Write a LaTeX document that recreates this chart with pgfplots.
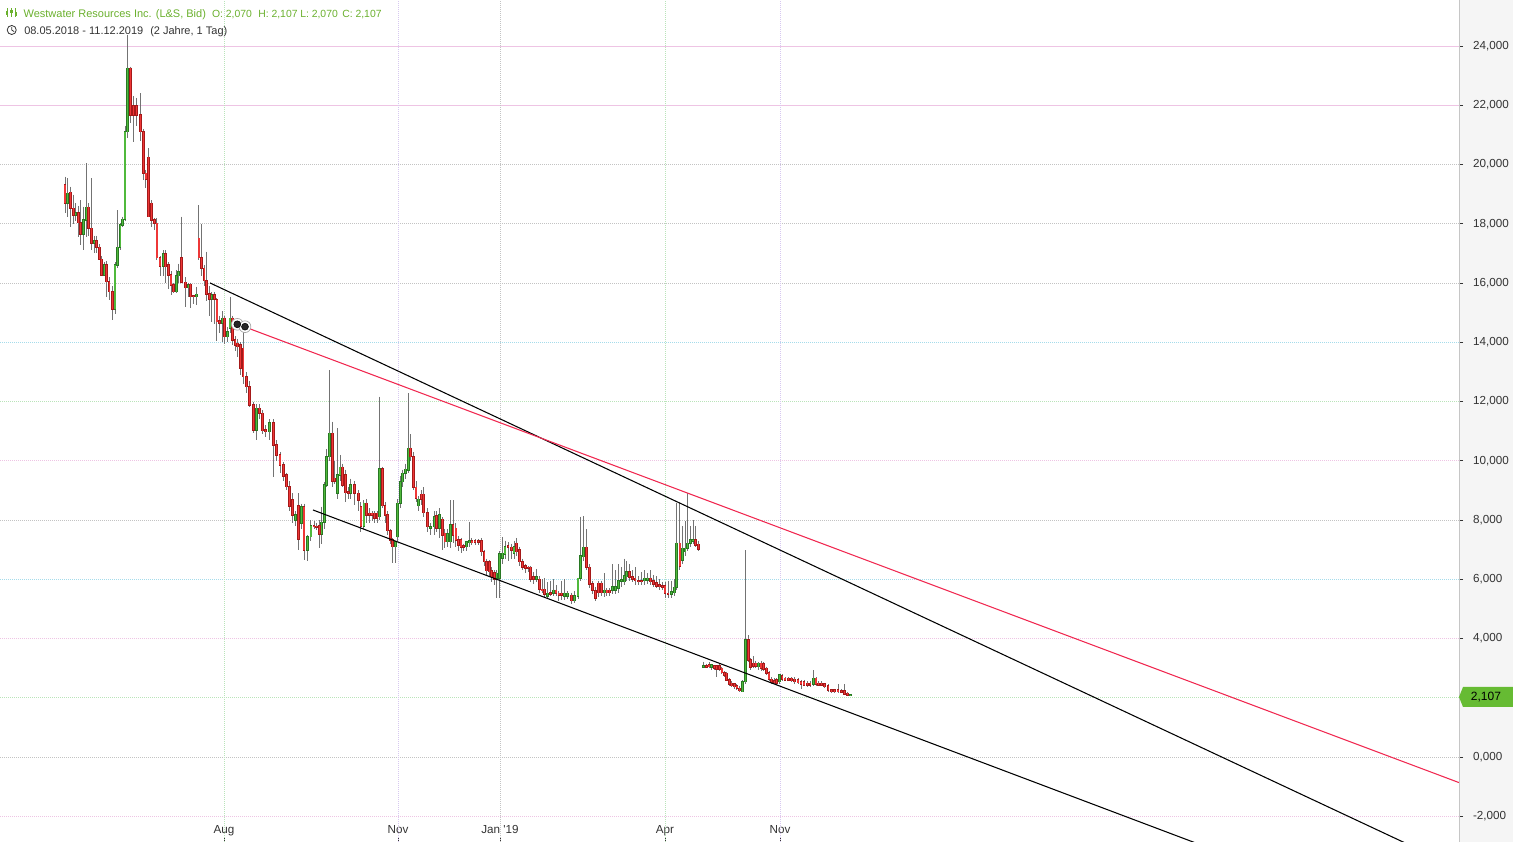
\documentclass[border=0pt]{standalone}
\usepackage{fontspec}
\setmainfont{Liberation Sans}
\usepackage{pgfplots}
\usepackage{pgfplotstable}
\pgfplotsset{compat=1.18}
\definecolor{hdrgreen}{RGB}{106,176,45}
\definecolor{txtgray}{RGB}{51,51,51}
\definecolor{upfill}{RGB}{80,185,60}
\definecolor{upedge}{RGB}{40,120,35}
\definecolor{dnfill}{RGB}{238,55,55}
\definecolor{dnedge}{RGB}{165,25,25}
\definecolor{wick}{RGB}{115,115,115}
\definecolor{trendred}{RGB}{240,40,80}
\definecolor{gpink}{RGB}{238,196,228}
\definecolor{ggray}{RGB}{195,195,195}
\definecolor{gcyan}{RGB}{165,220,235}
\definecolor{ggreen}{RGB}{185,228,185}
\definecolor{glav}{RGB}{215,200,240}
\definecolor{tagfill}{RGB}{102,187,51}

\pgfplotstableread{
x o h l c
65.0 19.307 19.589 18.351 18.688
67.8 18.688 19.532 18.238 19.026
70.4 19.060 19.251 17.901 18.520
73.2 18.520 18.980 18.000 18.295
75.7 18.295 18.700 18.100 18.373
78.3 18.373 18.600 17.563 18.036
80.8 18.036 18.801 17.282 17.653
83.4 17.653 18.576 17.113 18.126
86.2 18.126 20.039 17.563 18.553
88.8 18.553 18.700 17.600 17.844
91.6 17.844 19.532 17.113 17.338
94.2 17.338 17.600 17.000 17.428
96.7 17.428 17.600 17.000 17.203
99.3 17.203 17.300 16.770 16.798
101.8 16.798 16.900 16.220 16.269
104.2 16.269 16.700 16.220 16.607
106.7 16.607 16.750 15.538 16.044
109.1 16.044 16.200 15.430 15.707
112.3 15.707 15.900 14.750 15.110
115.0 15.110 16.700 14.950 16.607
117.7 16.607 18.463 16.500 17.203
120.1 17.203 18.013 17.100 17.957
122.5 17.957 18.238 17.900 18.148
125.0 18.148 21.300 18.100 21.108
127.4 21.108 24.371 20.900 23.246
130.8 23.246 23.300 21.400 21.671
133.6 21.974 22.300 20.770 21.671
136.8 21.974 22.250 21.300 21.671
140.4 21.671 22.402 20.800 21.108
143.2 21.108 21.200 19.480 19.701
145.9 19.701 19.800 19.200 19.499
148.5 20.241 20.550 18.220 18.238
151.6 18.688 18.801 17.900 18.126
154.3 18.126 18.200 17.800 18.013
156.9 18.013 18.200 16.770 16.854
160.0 16.854 16.900 16.220 16.573
163.2 16.573 17.100 16.220 16.978
165.8 16.978 17.100 16.000 16.551
168.4 16.607 16.700 15.800 16.269
171.0 16.269 16.400 15.600 15.932
173.6 15.932 16.000 15.650 15.707
176.2 15.707 16.440 15.650 16.247
178.8 16.247 16.650 16.000 16.382
181.6 16.854 18.238 15.990 16.022
185.4 16.022 16.200 15.200 15.842
188.1 15.842 16.000 15.540 15.932
190.8 15.954 16.000 15.144 15.538
193.6 15.571 15.600 15.300 15.538
196.3 15.538 15.880 15.256 15.616
198.9 17.507 18.632 16.780 16.860
201.5 16.860 18.000 16.220 16.494
204.1 16.494 16.600 15.900 16.078
206.7 16.078 17.057 15.400 15.628
209.3 15.628 15.900 14.900 15.448
211.8 15.448 15.700 14.700 15.594
214.3 15.594 15.700 14.600 15.448
216.9 15.426 15.500 14.050 14.694
219.5 14.717 14.900 14.300 14.638
222.1 14.638 15.050 14.000 14.807
224.7 14.807 14.900 13.950 14.188
227.3 14.188 14.500 14.000 14.357
230.0 14.469 15.540 14.300 14.807
232.5 14.807 14.900 13.900 14.075
235.1 14.075 14.200 13.700 13.906
237.6 13.963 14.100 13.500 13.850
240.2 13.906 14.000 12.900 13.119
243.1 13.794 14.357 12.600 12.837
246.2 12.837 13.000 12.300 12.500
249.3 12.500 12.700 11.800 11.881
253.3 11.881 12.000 10.950 11.037
256.7 11.037 11.900 10.700 11.768
259.6 11.768 11.900 11.400 11.600
262.5 11.600 11.700 10.900 11.014
265.8 11.037 11.200 10.800 10.981
269.6 10.981 11.400 10.700 11.284
273.2 11.284 11.400 9.461 10.531
276.5 10.531 10.700 10.000 10.193
280.0 10.193 10.300 9.600 9.855
283.3 9.855 9.950 9.300 9.484
286.4 9.518 9.600 9.000 9.124
289.6 9.124 9.300 8.300 8.471
292.6 8.674 8.900 7.900 8.167
295.3 8.000 8.300 7.800 8.167
298.6 8.471 8.899 7.000 7.346
301.3 7.900 8.550 7.700 8.450
304.0 8.448 8.550 6.648 6.986
307.4 6.985 7.500 6.600 7.435
310.9 7.435 8.000 7.300 7.806
314.0 7.806 7.950 7.700 7.772
316.7 7.790 7.900 7.650 7.772
319.3 7.806 8.000 7.050 7.525
321.8 7.525 8.448 7.200 7.919
324.2 7.919 9.292 7.700 9.179
326.7 9.179 10.400 9.100 10.136
329.3 10.136 13.061 10.000 10.923
332.2 10.923 11.317 9.100 9.314
334.8 9.404 10.000 9.200 9.314
337.4 8.898 11.100 8.700 9.517
340.0 9.517 10.200 9.300 9.776
342.7 9.776 9.900 9.100 9.179
345.5 9.517 9.700 8.600 8.920
348.2 8.954 9.100 8.700 8.898
350.8 8.898 9.400 8.700 9.179
354.8 9.179 9.300 8.500 8.898
358.2 8.898 9.000 8.300 8.673
360.9 8.448 8.600 7.600 7.795
363.9 7.795 8.673 7.700 8.560
366.7 8.560 8.700 7.900 8.166
369.4 8.223 8.400 7.900 8.166
372.0 8.223 8.300 7.950 8.166
374.6 8.223 8.300 7.900 8.054
377.1 8.223 8.300 7.900 8.054
379.8 8.110 12.161 8.000 9.719
382.5 9.719 9.800 8.400 8.481
385.1 8.481 8.600 7.900 8.166
387.7 8.166 8.300 7.500 7.638
390.2 7.638 7.700 7.200 7.322
392.8 7.322 7.400 6.535 7.097
395.3 7.097 7.300 6.535 7.266
397.8 7.435 8.700 7.300 8.560
400.3 8.560 9.500 8.400 9.292
402.8 9.292 9.700 9.100 9.573
405.4 9.573 9.900 9.400 9.708
408.2 9.686 12.274 9.600 10.417
410.8 10.417 10.900 10.000 10.136
413.4 10.136 10.300 9.000 9.100
416.0 9.100 9.300 8.600 8.729
418.6 8.481 8.800 8.300 8.695
421.1 8.864 9.000 8.500 8.695
423.7 8.864 9.100 8.100 8.245
427.2 8.245 8.400 7.600 7.772
430.8 7.716 7.900 7.500 7.772
434.2 7.772 8.300 7.500 8.110
436.8 8.133 8.300 7.600 7.716
439.4 7.716 8.400 7.400 8.166
442.2 8.020 8.100 7.000 7.491
444.9 7.547 7.700 7.050 7.266
447.6 7.266 7.700 7.100 7.525
450.2 7.266 8.673 7.050 7.829
453.1 7.829 8.673 7.210 7.491
455.9 7.716 7.900 7.100 7.322
458.5 7.322 7.450 6.950 7.153
461.0 7.322 7.400 6.900 7.075
463.8 7.120 7.200 6.950 7.075
466.6 7.097 7.300 6.950 7.266
469.3 7.232 7.941 7.100 7.300
471.9 7.300 7.400 7.150 7.232
475.0 7.300 7.350 7.150 7.255
478.2 7.300 7.350 7.150 7.255
481.5 7.300 7.400 6.800 6.928
484.1 6.928 7.000 6.450 6.591
486.7 6.591 6.700 6.150 6.287
489.3 6.591 6.650 6.100 6.253
491.8 6.287 6.400 5.900 6.085
494.3 6.220 6.300 5.800 5.994
496.8 6.028 6.300 5.353 6.197
499.4 6.028 6.950 5.353 6.850
502.4 6.703 7.430 6.500 6.872
505.0 6.850 7.300 6.700 7.097
508.1 7.120 7.250 6.600 7.075
511.2 7.075 7.200 6.700 6.985
514.0 6.872 7.300 6.700 7.097
516.7 7.210 7.400 6.800 6.928
519.8 6.985 7.100 6.450 6.591
522.6 6.591 6.700 6.300 6.400
525.4 6.445 6.500 6.200 6.366
528.1 6.400 6.450 6.250 6.366
530.8 6.400 6.450 5.900 5.994
533.8 6.085 6.250 5.850 5.994
536.6 5.994 6.350 5.900 6.085
539.3 5.994 6.100 5.550 5.657
542.0 5.657 6.000 5.550 5.612
544.8 5.657 6.050 5.400 5.499
547.8 5.432 5.900 5.350 5.522
550.6 5.544 5.950 5.450 5.499
553.3 5.522 6.000 5.450 5.634
556.0 5.634 5.800 5.450 5.522
558.9 5.522 5.600 5.250 5.454
561.7 5.522 5.950 5.300 5.465
564.8 5.432 6.000 5.300 5.522
567.8 5.432 5.600 5.350 5.522
571.3 5.465 5.550 5.150 5.274
574.7 5.274 5.600 5.200 5.432
578.0 5.432 6.050 5.350 6.028
580.6 6.028 8.110 5.950 6.782
583.3 6.760 8.133 6.600 7.075
586.4 7.075 7.700 6.300 6.400
589.2 6.400 6.500 5.700 5.837
592.2 5.837 5.950 5.500 5.634
595.2 5.612 5.750 5.250 5.353
598.8 5.859 5.950 5.400 5.544
601.6 5.859 5.950 5.450 5.544
604.2 5.544 6.200 5.400 5.634
606.9 5.634 5.700 5.450 5.544
609.8 5.634 5.700 5.450 5.544
612.6 5.634 6.500 5.500 5.747
615.8 5.634 6.300 5.500 5.747
618.6 5.691 6.500 5.550 5.949
621.6 5.949 6.400 5.750 5.972
624.3 5.916 6.700 5.800 6.107
626.8 6.085 6.600 5.950 6.253
629.5 6.253 6.500 5.950 6.062
632.3 6.085 6.300 5.900 5.994
635.1 6.028 6.400 5.800 5.949
638.2 5.949 6.100 5.800 5.916
641.5 5.949 6.250 5.800 5.916
644.7 5.949 6.300 5.800 6.028
647.6 5.972 6.200 5.850 6.028
650.6 6.028 6.300 5.800 5.916
653.8 5.949 6.150 5.750 5.837
656.7 5.882 6.100 5.700 5.770
659.5 5.803 6.000 5.650 5.747
662.2 5.770 5.900 5.650 5.747
665.0 5.770 5.900 5.353 5.522
668.1 5.522 5.950 5.353 5.499
671.5 5.499 5.950 5.380 5.578
674.2 5.544 6.000 5.450 5.724
676.8 5.724 8.583 5.650 7.210
679.9 7.210 8.560 6.300 6.445
682.6 6.647 7.800 6.500 7.041
685.1 6.928 7.950 6.800 7.041
687.8 7.041 8.898 6.950 7.210
690.6 7.210 7.800 7.100 7.322
693.0 7.300 8.000 7.200 7.322
695.6 7.322 7.800 7.100 7.153
698.4 7.176 7.300 6.950 7.007
703.3 3.047 3.216 3.000 3.069
706.3 3.069 3.150 3.000 3.047
709.0 3.103 3.200 3.000 3.047
711.7 3.024 3.150 2.950 3.103
714.2 3.069 3.100 2.950 2.991
716.8 3.069 3.100 2.709 2.957
719.4 3.069 3.150 2.900 2.957
721.9 2.991 3.050 2.800 2.845
724.3 2.845 2.900 2.700 2.766
726.8 2.822 2.880 2.550 2.597
729.2 2.597 2.650 2.400 2.462
731.7 2.484 2.550 2.350 2.405
734.3 2.462 2.500 2.300 2.372
736.9 2.405 2.450 2.270 2.315
739.8 2.315 2.400 2.180 2.237
742.5 2.203 2.600 2.180 2.541
745.2 2.541 6.985 2.450 3.947
748.2 3.947 4.116 3.200 3.272
750.8 3.272 3.350 2.950 3.024
753.4 3.159 3.400 3.000 3.069
755.9 3.159 3.250 3.000 3.069
758.4 3.047 3.200 2.950 3.159
761.0 3.159 3.250 2.900 2.991
763.6 3.137 3.200 2.900 2.957
766.2 2.991 3.050 2.780 2.822
769.0 2.845 2.900 2.580 2.619
771.6 2.619 2.700 2.450 2.507
774.1 2.574 2.650 2.450 2.507
776.7 2.597 2.650 2.430 2.484
779.4 2.541 2.800 2.480 2.766
782.1 2.732 2.800 2.580 2.619
785.0 2.653 2.700 2.550 2.597
788.2 2.653 2.700 2.550 2.597
791.5 2.653 2.700 2.520 2.574
794.8 2.619 2.700 2.480 2.541
798.0 2.597 2.650 2.450 2.507
801.0 2.541 2.600 2.300 2.462
804.0 2.541 2.600 2.380 2.428
807.2 2.484 2.550 2.370 2.417
810.1 2.484 2.550 2.370 2.417
813.2 2.462 2.934 2.400 2.653
816.0 2.653 2.700 2.400 2.462
818.6 2.484 2.550 2.380 2.428
821.5 2.484 2.550 2.380 2.428
824.8 2.462 2.500 2.320 2.372
828.1 2.394 2.450 2.200 2.259
831.4 2.259 2.300 2.150 2.203
834.7 2.259 2.300 2.150 2.203
838.0 2.259 2.450 2.150 2.203
841.3 2.237 2.300 2.150 2.192
844.6 2.237 2.450 2.080 2.124
847.6 2.147 2.200 2.050 2.090
850.6 2.070 2.107 2.070 2.107
}\candles

\begin{document}
\begin{tikzpicture}
\path[use as bounding box] (0pt,0pt) rectangle (1134.75pt,631.5pt);
\fill[white!96!black] (1094.25pt,0pt) rectangle (1134.75pt,631.5pt);
\begin{axis}[
  at={(0pt,0pt)}, anchor=south west,
  scale only axis, width=1094.25pt, height=631.5pt,
  xmin=0, xmax=1459, ymin=-2.869, ymax=25.553,
  axis line style={draw=none},
  xtick={224,398,500,665,780},
  xticklabels={Aug,Nov,Jan \textquotesingle19,Apr,Nov},
  ytick={-2,0,2,4,6,8,10,12,14,16,18,20,22,24},
  yticklabels={{-2,000},{0,000},{2,000},{4,000},{6,000},{8,000},{10,000},{12,000},{14,000},{16,000},{18,000},{20,000},{22,000},{24,000}},
  xtick pos=left, ytick pos=right, yticklabel pos=right,
  xtick align=inside, ytick align=outside,
  major tick length=3pt,
  major tick style={txtgray, line width=0.6pt},
  tick label style={font=\fontsize{8.75}{10}\selectfont, text=txtgray},
  yticklabel style={anchor=west, xshift=4pt},
  xticklabel style={anchor=base, yshift=6pt},
  clip=true,
]
% horizontal grid
\draw[gpink, line width=0.7pt] (axis cs:0,24) -- (axis cs:1459,24);
\draw[gpink, line width=0.7pt] (axis cs:0,22) -- (axis cs:1459,22);
\draw[ggray, line width=0.7pt, dash pattern=on 0.75pt off 0.75pt] (axis cs:0,20) -- (axis cs:1459,20);
\draw[ggray, line width=0.7pt, dash pattern=on 0.75pt off 0.75pt] (axis cs:0,18) -- (axis cs:1459,18);
\draw[ggray, line width=0.7pt, dash pattern=on 0.75pt off 0.75pt] (axis cs:0,16) -- (axis cs:1459,16);
\draw[gcyan, line width=0.7pt, dash pattern=on 0.75pt off 0.75pt] (axis cs:0,14) -- (axis cs:1459,14);
\draw[ggreen, line width=0.7pt, dash pattern=on 0.75pt off 0.75pt] (axis cs:0,12) -- (axis cs:1459,12);
\draw[gpink, line width=0.7pt, dash pattern=on 0.75pt off 0.75pt] (axis cs:0,10) -- (axis cs:1459,10);
\draw[ggray, line width=0.7pt, dash pattern=on 0.75pt off 0.75pt] (axis cs:0,8) -- (axis cs:1459,8);
\draw[gcyan, line width=0.7pt, dash pattern=on 0.75pt off 0.75pt] (axis cs:0,6) -- (axis cs:1459,6);
\draw[gpink, line width=0.7pt, dash pattern=on 0.75pt off 0.75pt] (axis cs:0,4) -- (axis cs:1459,4);
\draw[ggreen, line width=0.7pt, dash pattern=on 0.75pt off 0.75pt] (axis cs:0,2) -- (axis cs:1459,2);
\draw[ggray, line width=0.7pt, dash pattern=on 0.75pt off 0.75pt] (axis cs:0,0) -- (axis cs:1459,0);
\draw[gpink, line width=0.7pt, dash pattern=on 0.75pt off 0.75pt] (axis cs:0,-2) -- (axis cs:1459,-2);
% vertical grid
\draw[ggreen, line width=0.7pt, dash pattern=on 0.75pt off 0.75pt] (axis cs:224,-2.869) -- (axis cs:224,25.553);
\draw[glav, line width=0.7pt, dash pattern=on 0.75pt off 0.75pt] (axis cs:398,-2.869) -- (axis cs:398,25.553);
\draw[ggray, line width=0.7pt, dash pattern=on 0.75pt off 0.75pt] (axis cs:500,-2.869) -- (axis cs:500,25.553);
\draw[ggreen, line width=0.7pt, dash pattern=on 0.75pt off 0.75pt] (axis cs:665,-2.869) -- (axis cs:665,25.553);
\draw[glav, line width=0.7pt, dash pattern=on 0.75pt off 0.75pt] (axis cs:780,-2.869) -- (axis cs:780,25.553);
% wicks
\addplot[forget plot, draw=none, no markers,
  error bars/.cd, y dir=minus, y explicit, error mark=none,
  error bar style={draw=wick, line width=0.7pt, solid}]
  table[x=x, y=h, y error expr=\thisrow{h}-\thisrow{l}] {\candles};
% up bodies
\addplot[forget plot, draw=none, no markers, restrict y to domain=-100:100,
  error bars/.cd, y dir=minus, y explicit, error mark=none,
  error bar style={draw=upedge, line width=2.0pt, solid}]
  table[x=x, y expr={\thisrow{c}>=\thisrow{o} ? \thisrow{c}+0.02 : -1000},
        y error expr={max(\thisrow{c}-\thisrow{o},0.03)+0.04}] {\candles};
\addplot[forget plot, draw=none, no markers, restrict y to domain=-100:100,
  error bars/.cd, y dir=minus, y explicit, error mark=none,
  error bar style={draw=upfill, line width=0.9pt, solid}]
  table[x=x, y expr={\thisrow{c}>=\thisrow{o} ? \thisrow{c} : -1000},
        y error expr={max(\thisrow{c}-\thisrow{o},0.03)}] {\candles};
% down bodies
\addplot[forget plot, draw=none, no markers, restrict y to domain=-100:100,
  error bars/.cd, y dir=minus, y explicit, error mark=none,
  error bar style={draw=dnedge, line width=2.0pt, solid}]
  table[x=x, y expr={\thisrow{c}<\thisrow{o} ? \thisrow{o}+0.02 : -1000},
        y error expr={max(\thisrow{o}-\thisrow{c},0.03)+0.04}] {\candles};
\addplot[forget plot, draw=none, no markers, restrict y to domain=-100:100,
  error bars/.cd, y dir=minus, y explicit, error mark=none,
  error bar style={draw=dnfill, line width=0.9pt, solid}]
  table[x=x, y expr={\thisrow{c}<\thisrow{o} ? \thisrow{o} : -1000},
        y error expr={max(\thisrow{o}-\thisrow{c},0.03)}] {\candles};
% trend lines
\addplot[black, line width=0.8pt, no markers] coordinates {(210,16.002) (1459,-3.754)};
\addplot[black, line width=0.8pt, no markers] coordinates {(313,8.338) (1459,-6.255)};
\addplot[trendred, line width=0.8pt, no markers] coordinates {(245,14.515) (1459,-0.864)};
% markers
\addplot[only marks, mark=*, mark size=4.4pt, mark options={fill=white, draw=gray!70, line width=0.5pt}] coordinates {(237.3,14.606) (245,14.525)};
\addplot[only marks, mark=*, mark size=2.6pt, mark options={fill=black!85, draw=black}] coordinates {(237.3,14.606) (245,14.525)};
\end{axis}
% right axis line
\draw[gray!45, line width=0.6pt] (1094.25pt,0pt) -- (1094.25pt,631.5pt);
% price tag
\fill[tagfill] (1094.25pt,108.75pt) -- (1097.25pt,116.25pt) -- (1134.75pt,116.25pt) -- (1134.75pt,101.25pt) -- (1097.25pt,101.25pt) -- cycle;
\node[anchor=west, inner sep=0pt, font=\fontsize{9}{10}\selectfont, text=black] at (1103pt,108.75pt) {2,107};
% header icon
\begin{scope}[hdrgreen, line width=0.6pt]
\draw (5.3pt,618.8pt) -- (5.3pt,625.5pt);
\fill (4.5pt,620.3pt) rectangle (6.1pt,623.2pt);
\draw (8.6pt,618.8pt) -- (8.6pt,625.5pt);
\fill (7.8pt,621.5pt) rectangle (9.4pt,624.3pt);
\draw (11.9pt,618.8pt) -- (11.9pt,625.5pt);
\fill (11.1pt,619.8pt) rectangle (12.7pt,622.8pt);
\end{scope}
% clock icon
\draw[txtgray, line width=0.6pt] (8.8pt,609pt) circle (3.4pt);
\draw[txtgray, line width=0.6pt] (8.8pt,611.3pt) -- (8.8pt,609pt) -- (10.6pt,607.8pt);
% header text
\begin{scope}[every node/.style={anchor=base west, inner sep=0pt, font=\fontsize{8.25}{10}\selectfont}]
\node[text=hdrgreen] at (17.5pt,618.5pt) {Westwater Resources Inc. (L\&S, Bid)};
\node[text=hdrgreen, font=\fontsize{7.8}{10}\selectfont] at (158.8pt,618.5pt) {O: 2,070};
\node[text=hdrgreen, font=\fontsize{7.8}{10}\selectfont] at (193.5pt,618.5pt) {H: 2,107};
\node[text=hdrgreen, font=\fontsize{7.8}{10}\selectfont] at (225pt,618.5pt) {L: 2,070};
\node[text=hdrgreen, font=\fontsize{7.8}{10}\selectfont] at (256.5pt,618.5pt) {C: 2,107};
\node[text=txtgray] at (18pt,605.8pt) {08.05.2018 - 11.12.2019};
\node[text=txtgray] at (112.5pt,605.8pt) {(2 Jahre, 1 Tag)};
\end{scope}
\end{tikzpicture}
\end{document}
